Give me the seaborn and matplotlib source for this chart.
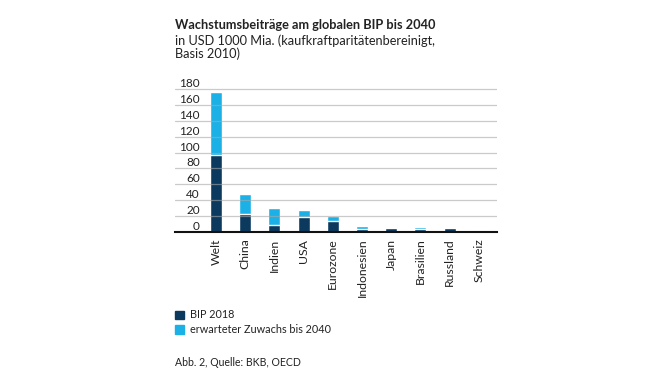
import matplotlib
matplotlib.use("Agg")
import matplotlib.pyplot as plt
from matplotlib.patches import Patch
import pandas as pd
import seaborn as sns

# values (USD 1000 Mia.)
regions = ["Welt", "China", "Indien", "USA", "Eurozone", "Indonesien", "Japan", "Brasilien", "Russland", "Schweiz"]
bip_2018 = [97, 23, 9, 18, 13.5, 4, 5, 3.3, 4.2, 0.8]
total_2040 = [176, 48, 30, 27, 20, 7.5, 6, 5.8, 4.6, 2.0]
y_ticks = [0, 20, 40, 60, 80, 100, 120, 140, 160, 180]

DARK = "#0b3a5e"
LIGHT = "#1bb1e7"
TEXT = "#222222"

sns.set_theme(style="white")
plt.rcParams["font.family"] = ["Lato", "DejaVu Sans"]

df = pd.DataFrame({"region": regions, "bip": bip_2018, "total": total_2040})

fig = plt.figure(figsize=(6.7, 3.77), dpi=100)
ax = fig.add_axes([175 / 670, 1 - 231.7 / 377, 322 / 670, 144 / 377])

sns.barplot(data=df, x="region", y="total", color=LIGHT, width=0.41, saturation=1, ax=ax)
sns.barplot(data=df, x="region", y="bip", color=DARK, width=0.41, saturation=1, ax=ax)

ax.set_ylim(0, 182)
ax.set_xlim(-1.4, 9.62)
ax.set_xlabel("")
ax.set_ylabel("")
for s in ["top", "right", "left"]:
    ax.spines[s].set_visible(False)
ax.spines["bottom"].set_color("#111111")
ax.spines["bottom"].set_linewidth(1.5)
ax.spines["bottom"].set_zorder(5)

ax.set_yticks(y_ticks)
ax.set_axisbelow(False)
ax.grid(axis="y", color="#a8a8a8", alpha=0.6, linewidth=0.9, zorder=4)
ax.tick_params(axis="y", length=0, pad=-18, labelsize=8.5, labelcolor=TEXT)
for lab in ax.get_yticklabels():
    lab.set_horizontalalignment("right")
    lab.set_verticalalignment("bottom")

ax.tick_params(axis="x", length=0, pad=5, labelsize=8.8, labelcolor=TEXT, labelrotation=90)
for lab in ax.get_xticklabels():
    lab.set_verticalalignment("top")

fig.text(175 / 670, 1 - 25 / 377, "Wachstumsbeiträge am globalen BIP bis 2040",
         fontsize=9.2, fontweight="bold", color=TEXT, va="center", ha="left")
fig.text(175 / 670, 1 - 40.5 / 377, "in USD 1000 Mia. (kaufkraftparitätenbereinigt,",
         fontsize=9.2, color=TEXT, va="center", ha="left")
fig.text(175 / 670, 1 - 53.5 / 377, "Basis 2010)",
         fontsize=9.2, color=TEXT, va="center", ha="left")

handles = [Patch(color=DARK, label="BIP 2018"), Patch(color=LIGHT, label="erwarteter Zuwachs bis 2040")]
fig.legend(handles=handles, loc="upper left", bbox_to_anchor=(170 / 670, 1 - 304 / 377),
           frameon=False, fontsize=7.8, handlelength=0.8, handleheight=0.8,
           handletextpad=0.5, labelspacing=0.35, borderpad=0, labelcolor=TEXT)

fig.text(175 / 670, 1 - 363 / 377, "Abb. 2, Quelle: BKB, OECD",
         fontsize=7.6, color=TEXT, va="center", ha="left")

fig.savefig("out.png", dpi=100)
